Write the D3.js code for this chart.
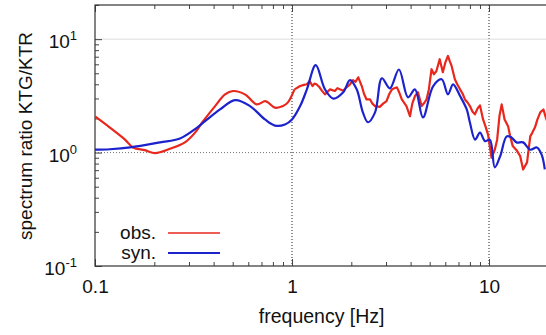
<!DOCTYPE html>
<html>
<head>
<meta charset="utf-8">
<script src="https://cdn.jsdelivr.net/npm/d3@7"></script>
<style>
body{margin:0;background:#fff;}
text{font-family:"Liberation Sans",Arial,sans-serif;fill:#111;}
</style>
</head>
<body>
<svg id="chart" width="546" height="335"></svg>
<script>
// observed spectrum ratio (red)
var obsFreq = [0.1,0.119,0.142,0.156,0.179,0.202,0.240,0.286,0.322,0.353,0.407,0.457,0.502,0.577,0.661,0.729,0.755,0.820,0.900,0.953,1.03,1.10,
  1.15,1.19,1.23,1.27,1.30,1.33,1.38,1.42,1.47,1.52,1.56,1.65,1.70,1.75,1.82,1.89,1.96,2.04,2.10,2.17,2.26,2.32,2.39,2.49,2.56,2.64,2.79,2.90,3.02,3.12,3.22,3.41,3.50,3.61,3.81,3.97,4.08,4.21,4.36,4.55,4.70,4.82,4.95,
  5.11,5.25,5.41,5.62,5.83,6.0,6.19,6.32,6.46,6.71,6.90,7.13,7.35,7.55,7.80,8.0,8.24,8.48,8.75,9.0,9.33,9.6,9.89,10.3,10.7,11.0,11.3,11.6,12.0,12.5,12.8,13.2,13.8,14.4,14.9,15.6,16.2,16.6,17.1,17.6,18.2,18.9,19.4,20];
var obsRatio = [2.08,1.66,1.30,1.11,1.05,0.99,1.08,1.23,1.50,1.88,2.57,3.26,3.49,3.26,2.66,2.84,2.77,2.49,2.57,2.77,3.61,3.86,
  3.95,4.00,4.27,3.86,4.05,4.00,3.76,3.50,3.26,3.45,3.61,3.49,3.70,3.61,3.50,3.76,3.95,4.34,4.20,4.61,3.86,3.30,2.94,2.94,2.70,2.57,2.53,2.70,2.84,3.30,3.61,3.76,3.40,2.94,2.57,2.09,2.70,3.15,3.40,2.57,2.75,2.94,3.60,
  5.43,4.90,5.24,6.65,5.11,6.20,7.11,6.40,5.81,4.43,4.00,3.61,3.30,2.94,2.75,2.57,2.30,2.17,2.45,2.61,1.96,1.70,1.44,0.90,1.06,1.30,2.10,2.66,1.96,1.71,1.40,1.14,1.05,0.93,0.71,0.82,1.39,1.50,1.66,1.95,2.26,2.40,2.05,1.77];

// synthetic spectrum ratio (blue)
var synFreq = [0.1,0.119,0.151,0.214,0.270,0.330,0.362,0.431,0.514,0.612,0.729,0.820,0.921,1.0,1.10,1.19,1.32,1.47,1.62,1.82,1.97,2.13,2.29,2.43,
  2.64,2.86,3.14,3.49,3.88,4.21,4.62,5.20,5.75,6.19,6.57,7.13,7.71,8.0,8.5,9.0,9.55,10.1,10.7,11.4,12.3,13.0,13.8,14.9,16.2,17.5,18.5,19.2];
var synRatio = [1.06,1.07,1.11,1.23,1.33,1.66,1.89,2.40,2.90,2.57,1.96,1.73,1.77,1.96,2.57,3.61,5.89,3.61,2.99,3.40,4.36,3.61,2.26,1.85,
  2.26,4.52,3.68,5.40,3.07,3.61,2.04,3.84,4.43,3.26,4.00,3.15,2.40,1.84,1.30,1.50,1.26,1.30,0.74,0.93,1.39,1.36,1.23,1.23,1.06,1.11,0.96,0.71];

var xMajor = [0.1,1,10];
var yMajor = [0.1,1,10];
var yExp = ["-1","0","1"];
var legendNames = ["obs.","syn."];
var colors = ["#e8271d","#1c22cc"];

var svg = d3.select("#chart");
var pL = 95, pR = 548.3, pT = 5, pB = 266;

var x = d3.scaleLog().domain([0.1,20]).range([pL,pR]);
var y = d3.scaleLog().domain([0.1,20]).range([pB,pT]);

// minor tick values
function minorTicks(lo,hi){
  var t=[];
  for(var d=lo; d<hi; d*=10){
    for(var m=2;m<=9;m++){ if(d*m<=hi) t.push(+(d*m).toPrecision(3)); }
  }
  return t;
}
var xMinor = minorTicks(0.1,20);
var yMinor = minorTicks(0.1,20);

// grid
svg.append("line").attr("x1",x(1)).attr("x2",x(1)).attr("y1",pT).attr("y2",pB)
  .attr("stroke","#222").attr("stroke-width",1).attr("stroke-dasharray","1,2");
svg.append("line").attr("x1",x(10)).attr("x2",x(10)).attr("y1",pT).attr("y2",pB)
  .attr("stroke","#222").attr("stroke-width",1).attr("stroke-dasharray","1,2");
svg.append("line").attr("x1",pL).attr("x2",pR).attr("y1",y(1)).attr("y2",y(1))
  .attr("stroke","#777").attr("stroke-width",1).attr("stroke-dasharray","1,2");
svg.append("line").attr("x1",pL).attr("x2",pR).attr("y1",y(10)).attr("y2",y(10))
  .attr("stroke","#ddd").attr("stroke-width",1);

// axes (ticks point inward)
function styleAxis(g){
  g.select(".domain").remove();
  g.selectAll("line").attr("stroke","#444");
  g.selectAll("text").style("font-size","19px").attr("fill","#111");
}
svg.append("g").attr("transform","translate(0,"+pB+")")
  .call(d3.axisBottom(x).tickValues(xMinor).tickSize(-4).tickFormat("")).call(styleAxis);
svg.append("g").attr("transform","translate(0,"+pB+")")
  .call(d3.axisBottom(x).tickValues(xMajor).tickSize(-7).tickPadding(14).tickFormat(function(d){return d<1?"0.1":String(d);}))
  .call(styleAxis);
svg.append("g").attr("transform","translate(0,"+pT+")")
  .call(d3.axisTop(x).tickValues(xMinor).tickSize(-4).tickFormat("")).call(styleAxis);
svg.append("g").attr("transform","translate(0,"+pT+")")
  .call(d3.axisTop(x).tickValues(xMajor).tickSize(-7).tickFormat("")).call(styleAxis);
svg.append("g").attr("transform","translate("+pL+",0)")
  .call(d3.axisLeft(y).tickValues(yMinor).tickSize(-4).tickFormat("")).call(styleAxis);
var yAx = svg.append("g").attr("transform","translate("+pL+",0)")
  .call(d3.axisLeft(y).tickValues(yMajor).tickSize(-7).tickPadding(18).tickFormat(""));
styleAxis(yAx);
yAx.selectAll(".tick text").each(function(d,i){
  var t=d3.select(this).attr("dy","0.45em");
  t.append("tspan").text("10");
  t.append("tspan").attr("dy","-0.6em").style("font-size","13px").text(yExp[i]);
});

// frame
svg.append("rect").attr("x",pL).attr("y",pT).attr("width",pR-pL).attr("height",pB-pT)
  .attr("fill","none").attr("stroke","#333").attr("stroke-width",1.2);

// curves: smooth below ~1 Hz, raw (linear) above for the noisy obs. part
var smooth = d3.line().x(function(d){return x(d[0]);}).y(function(d){return y(d[1]);}).curve(d3.curveCatmullRom);
var raw = d3.line().x(function(d){return x(d[0]);}).y(function(d){return y(d[1]);}).curve(d3.curveLinear);
var obs = obsFreq.map(function(f,i){return [f,obsRatio[i]];});
var syn = synFreq.map(function(f,i){return [f,synRatio[i]];});
svg.append("clipPath").attr("id","clip").append("rect")
  .attr("x",pL).attr("y",pT).attr("width",pR-pL).attr("height",pB-pT);
var plot = svg.append("g").attr("clip-path","url(#clip)");
plot.append("path").datum(obs.filter(function(d){return d[0]<=1.03;})).attr("d",smooth)
  .attr("fill","none").attr("stroke",colors[0]).attr("stroke-width",2.2);
plot.append("path").datum(obs.filter(function(d){return d[0]>=1.03;})).attr("d",raw)
  .attr("fill","none").attr("stroke",colors[0]).attr("stroke-width",2.2).attr("stroke-linejoin","round");
plot.append("path").datum(syn).attr("d",smooth).attr("fill","none").attr("stroke",colors[1]).attr("stroke-width",2.2);

// legend
legendNames.forEach(function(n,i){
  var ly = 233 + i*20;
  svg.append("text").attr("x",156).attr("y",ly+6).attr("text-anchor","end").style("font-size","19px").text(n);
  svg.append("line").attr("x1",168).attr("x2",220).attr("y1",ly).attr("y2",ly)
    .attr("stroke",colors[i]).attr("stroke-width",i==0?1.5:2);
});

// axis titles
svg.append("text").attr("x",(pL+pR)/2).attr("y",323).attr("text-anchor","middle")
  .style("font-size","19.5px").text("frequency [Hz]");
svg.append("text").attr("transform","translate(32,136) rotate(-90)").attr("text-anchor","middle")
  .style("font-size","19px").text("spectrum ratio KTG/KTR");
</script>
</body>
</html>
